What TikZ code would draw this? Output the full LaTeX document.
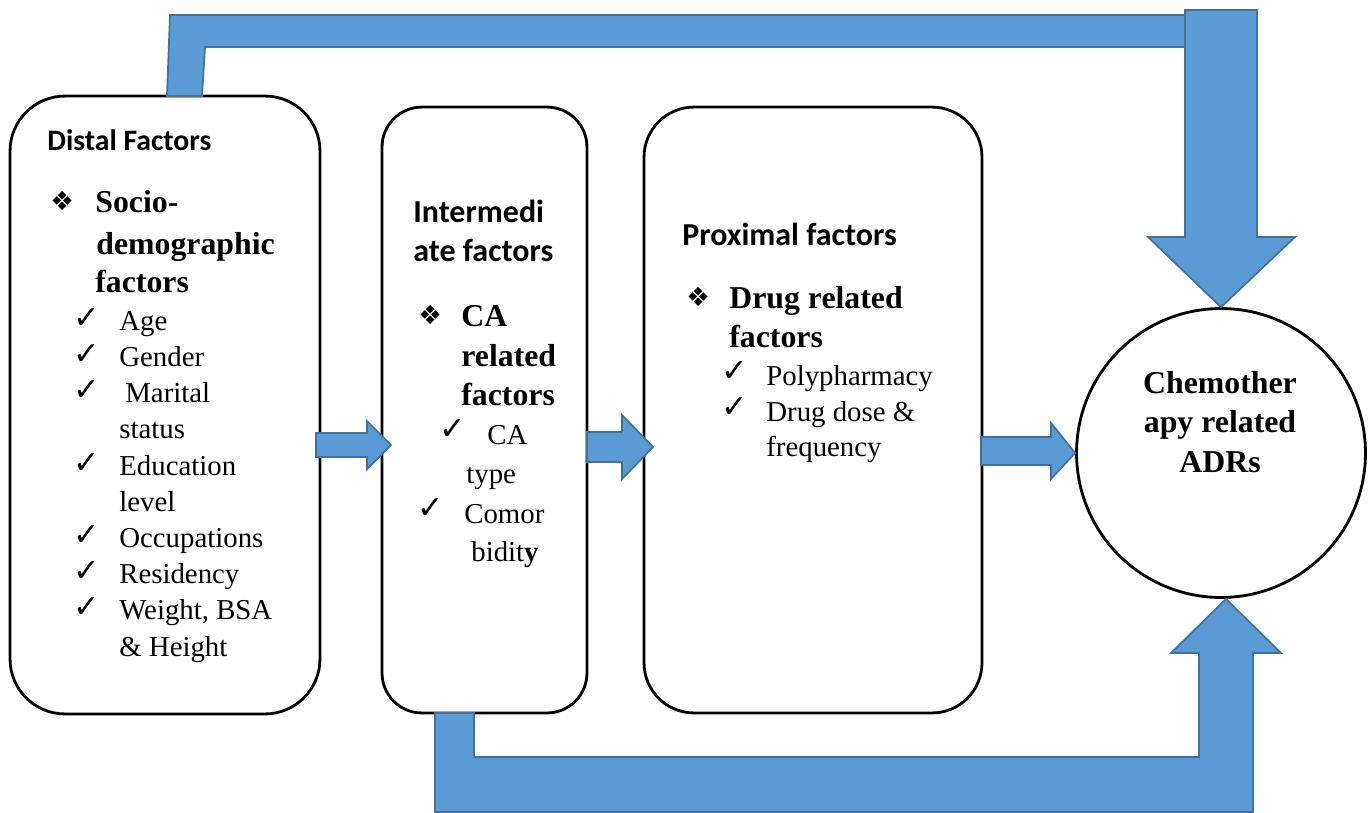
\documentclass[tikz,border=0pt]{standalone}
\usepackage{fontspec}
\setmainfont{Liberation Serif}
\newfontfamily\calibri{Carlito}
\newfontfamily\symbolfont{DejaVu Sans}
\definecolor{arrowfill}{HTML}{5B9BD5}
\definecolor{arrowline}{HTML}{41719C}
\tikzset{
  factor_box/.style={draw,line width=1.6pt,inner sep=0pt},
  head_text/.style={anchor=base west,inner sep=0pt,font=\calibri\bfseries\fontsize{18.2}{22}\selectfont},
  bold_text/.style={anchor=base west,inner sep=0pt,font=\bfseries\fontsize{18.1}{22.7}\selectfont},
  item_text/.style={anchor=base west,inner sep=0pt,font=\fontsize{16.4}{20.4}\selectfont},
  tick_mark/.style={anchor=west,inner sep=0pt,font=\symbolfont\fontsize{18}{20}\selectfont},
  star_mark/.style={anchor=west,inner sep=0pt,font=\symbolfont\fontsize{15}{18}\selectfont},
  block_arrow/.style={fill=arrowfill,draw=arrowline,line width=1pt,line join=miter}
}
\begin{document}
\begin{tikzpicture}[x=0.02cm,y=-0.02cm]
\useasboundingbox (0,0) rectangle (1368,812);

% the three factor boxes and the outcome
\node[factor_box,rounded corners=1.1cm,minimum width=6.2cm,minimum height=12.36cm] (distal) at (165,405) {};
\node[factor_box,rounded corners=0.8cm,minimum width=4.1cm,minimum height=12.12cm] (inter) at (484.5,410) {};
\node[factor_box,rounded corners=1cm,minimum width=6.76cm,minimum height=12.12cm] (proximal) at (813,410) {};
\node[circle,draw,line width=1.6pt,minimum size=5.78cm,inner sep=0pt] (adr) at (1221,453) {};

% distal factors
\node[head_text,font=\calibri\bfseries\fontsize{16.9}{20}\selectfont] (distal_title) at (47,150) {Distal Factors};
\node[star_mark] (distal_star) at (50,201) {❖};
\node[bold_text] (distal_head1) at (95,212) {Socio-};
\node[bold_text] (distal_head2) at (96,254) {demographic};
\node[bold_text] (distal_head3) at (95,292) {factors};
\foreach \n/\y/\t in {1/330/Age,2/366/Gender,4/475/Education,5/547/Occupations,6/583/Residency,7/619/{Weight, BSA}}{
  \node[tick_mark] (distal_tick\n) at (73,\y-11) {✓};
  \node[item_text] (distal_item\n) at (119,\y) {\t};
}
\node[tick_mark] (distal_tick3) at (73,391) {✓};
\node[item_text] (distal_item3) at (125,402) {Marital};
\node[item_text] (distal_more3) at (119,438) {status};
\node[item_text] (distal_more4) at (119,511) {level};
\node[item_text] (distal_more7) at (119,656) {\& Height};

% intermediate factors
\node[head_text] (inter_title1) at (413,222) {Intermedi};
\node[head_text] (inter_title2) at (413,261) {ate factors};
\node[star_mark] (inter_star) at (418,315) {❖};
\node[bold_text] (inter_head1) at (461,326) {CA};
\node[bold_text] (inter_head2) at (461,366) {related};
\node[bold_text] (inter_head3) at (461,405) {factors};
\node[tick_mark] (inter_tick1) at (439,430) {✓};
\node[item_text] (inter_item1) at (487,444) {CA};
\node[item_text] (inter_more1) at (466,483) {type};
\node[tick_mark] (inter_tick2) at (417,509) {✓};
\node[item_text] (inter_item2) at (464,523) {Comor};
\node[item_text] (inter_more2) at (471,561) {bidit\textbf{y}};

% proximal factors
\node[head_text] (prox_title) at (682,245) {Proximal factors};
\node[star_mark] (prox_star) at (686,297) {❖};
\node[bold_text] (prox_head1) at (729,308) {Drug related};
\node[bold_text] (prox_head2) at (729,347) {factors};
\node[tick_mark] (prox_tick1) at (721,372) {✓};
\node[item_text] (prox_item1) at (766,385) {Polypharmacy};
\node[tick_mark] (prox_tick2) at (721,408) {✓};
\node[item_text] (prox_item2) at (766,421) {Drug dose \&};
\node[item_text] (prox_more2) at (766,456) {frequency};

% outcome
\node[align=center,inner sep=0pt,font=\bfseries\fontsize{18.1}{22.7}\selectfont] (adr_text) at (1220,422) {Chemother\\apy related\\ADRs};

% arrows between the boxes
\draw[block_arrow] (316,433) -- (367,433) -- (367,421) -- (391,445) -- (367,469) -- (367,457) -- (316,457) -- cycle;
\draw[block_arrow] (587,432) -- (622,432) -- (622,415) -- (653,447) -- (622,479) -- (622,462) -- (587,462) -- cycle;
\draw[block_arrow] (981,437) -- (1051,437) -- (1051,423) -- (adr.west) -- (1051,479) -- (1051,465) -- (981,465) -- cycle;

% top path from distal factors
\draw[block_arrow] (167,96) -- (170,15) -- (1186,15) -- (1186,47) -- (205,47) -- (202,96) -- cycle;
\draw[block_arrow] (1185,10) -- (1257,10) -- (1257,237) -- (1295,237) -- (adr.north) -- (1148,237) -- (1185,237) -- cycle;

% bottom path from intermediate factors
\draw[block_arrow] (435,713) -- (474,713) -- (474,757) -- (1199,757) -- (1199,653) -- (1171,653) -- (1226,599) -- (1281,653) -- (1253,653) -- (1253,812) -- (435,812) -- cycle;
\end{tikzpicture}
\end{document}
